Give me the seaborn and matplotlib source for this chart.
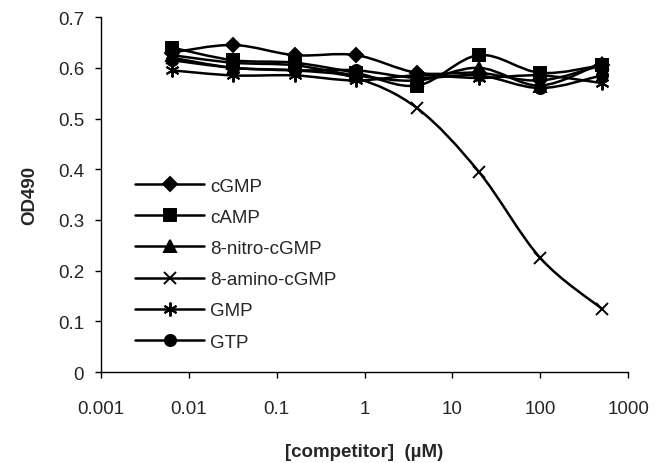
import numpy as np
import pandas as pd
import matplotlib
matplotlib.use("Agg")
import matplotlib.pyplot as plt
from matplotlib.path import Path
from matplotlib.patches import PathPatch
import seaborn as sns

# competitor concentrations (uM), 5-fold dilution series
conc = [0.0064, 0.032, 0.16, 0.8, 4, 20, 100, 500]

cgmp = [0.630, 0.645, 0.625, 0.625, 0.590, 0.590, 0.575, 0.605]
camp = [0.640, 0.615, 0.610, 0.590, 0.565, 0.625, 0.590, 0.605]
nitro_cgmp = [0.625, 0.610, 0.605, 0.585, 0.575, 0.600, 0.565, 0.610]
amino_cgmp = [0.620, 0.600, 0.595, 0.580, 0.520, 0.395, 0.225, 0.125]
gmp = [0.595, 0.585, 0.585, 0.575, 0.585, 0.580, 0.585, 0.570]
gtp = [0.615, 0.600, 0.595, 0.595, 0.580, 0.585, 0.560, 0.585]

names = ["cGMP", "cAMP", "8-nitro-cGMP", "8-amino-cGMP", "GMP", "GTP"]
series = [cgmp, camp, nitro_cgmp, amino_cgmp, gmp, gtp]
markers = ["D", "s", "^", "x", (6, 2, 0), "o"]
msizes = [7, 8, 8, 9, 10, 8]

sns.set_style("white")
plt.rcParams["font.family"] = ["Liberation Sans", "DejaVu Sans"]

fig = plt.figure(figsize=(6.55, 4.64), dpi=100)
ax = fig.add_axes([0.154, 0.196, 0.805, 0.765])


def smooth_path(xs, ys):
    # Catmull-Rom style bezier in (log x, y) space, like Excel's smoothed lines
    u = np.log10(xs)
    v = np.asarray(ys, dtype=float)
    n = len(u)
    verts = [(xs[0], v[0])]
    codes = [Path.MOVETO]
    for i in range(n - 1):
        i0 = max(i - 1, 0)
        i3 = min(i + 2, n - 1)
        c1u = u[i] + (u[i + 1] - u[i0]) / 6
        c1v = v[i] + (v[i + 1] - v[i0]) / 6
        c2u = u[i + 1] - (u[i3] - u[i]) / 6
        c2v = v[i + 1] - (v[i3] - v[i]) / 6
        verts += [(10 ** c1u, c1v), (10 ** c2u, c2v), (xs[i + 1], v[i + 1])]
        codes += [Path.CURVE4] * 3
    return Path(verts, codes)


for name, vals, m, ms in zip(names, series, markers, msizes):
    ax.add_patch(PathPatch(smooth_path(conc, vals), facecolor="none",
                           edgecolor="black", lw=1.8, zorder=2))
    sns.lineplot(x=conc, y=vals, ax=ax, color="black", lw=0, marker=m,
                 markersize=ms, markeredgecolor="black", markeredgewidth=1.4,
                 label=name, zorder=3)

ax.set_xscale("log")
ax.set_xlim(0.001, 1000)
ax.set_ylim(0, 0.7)
ax.set_xticks([0.001, 0.01, 0.1, 1, 10, 100, 1000])
ax.set_xticklabels(["0.001", "0.01", "0.1", "1", "10", "100", "1000"])
ax.set_yticks(np.arange(0, 0.71, 0.1))
ax.set_yticklabels(["0", "0.1", "0.2", "0.3", "0.4", "0.5", "0.6", "0.7"])
ax.minorticks_off()

for side in ["top", "right"]:
    ax.spines[side].set_visible(False)
for side in ["left", "bottom"]:
    ax.spines[side].set_color("black")
    ax.spines[side].set_linewidth(1.0)

ax.tick_params(axis="both", which="major", direction="out", length=4,
               width=1, color="black", labelsize=13.5, left=True, bottom=True)
ax.tick_params(axis="x", pad=16)
ax.tick_params(axis="y", pad=8)

ax.set_xlabel("[competitor]  (\u00b5M)", fontsize=13.5, fontweight="bold", labelpad=19)
ax.set_ylabel("OD490", fontsize=13.5, fontweight="bold", labelpad=14)

leg = ax.legend(loc="upper left", bbox_to_anchor=(0.0645, 0.548), frameon=False,
                fontsize=13.5, handlelength=3.7, labelspacing=0.75,
                borderpad=0, borderaxespad=0, handletextpad=0.3)
for line in leg.get_lines():
    line.set_linewidth(1.8)
    line.set_linestyle("-")

fig.savefig("out.png", dpi=100)
